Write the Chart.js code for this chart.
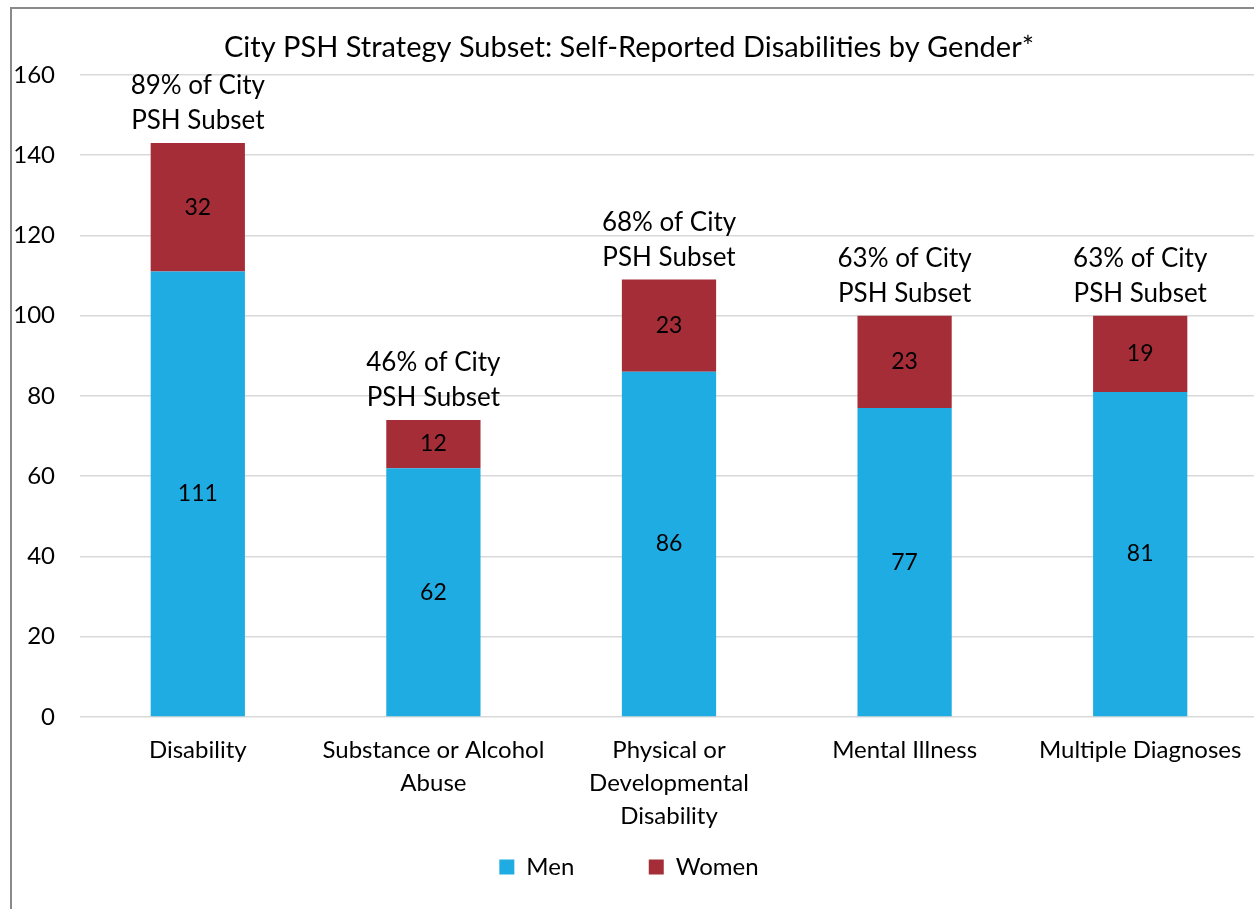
<!DOCTYPE html>
<html lang="en">
<head>
    <meta charset="UTF-8">
    <title>City PSH Strategy Subset</title>
    <style>
        body {
            margin: 0;
            overflow: hidden;
            background: white;
        }
        #wrap {
            position: relative;
            width: 1262px;
            height: 909px;
        }
        #frame {
            position: absolute;
            left: 10px;
            top: 7px;
            width: 1400px;
            height: 1000px;
            border-left: 2px solid #8a8a8a;
            border-top: 2px solid #8a8a8a;
        }
    </style>
</head>
<body>
    <div id="wrap">
        <div id="frame"></div>
        <canvas id="myChart" width="1262" height="909"></canvas>
    </div>

    <script src="https://cdn.jsdelivr.net/npm/chart.js"></script>
    <script>
        // chart data
        const categories = [
            ['Disability'],
            ['Substance or Alcohol', 'Abuse'],
            ['Physical or', 'Developmental', 'Disability'],
            ['Mental Illness'],
            ['Multiple Diagnoses']
        ];
        const men = [111, 62, 86, 77, 81];
        const women = [32, 12, 23, 23, 19];
        const shareOfSubset = ['89%', '46%', '68%', '63%', '63%'];
        const yMax = 160;
        const yStep = 20;

        const fontName = 'Lato, "Open Sans", sans-serif';

        // numbers inside bars + "xx% of City PSH Subset" above each stack
        const barLabels = {
            id: 'barLabels',
            afterDatasetsDraw(chart) {
                let ctx = chart.ctx;
                ctx.save();
                ctx.fillStyle = '#000';
                ctx.textAlign = 'center';
                ctx.textBaseline = 'middle';
                ctx.font = '23px ' + fontName;
                chart.data.datasets.forEach((ds, di) => {
                    let meta = chart.getDatasetMeta(di);
                    meta.data.forEach((bar, i) => {
                        ctx.fillText(ds.data[i], bar.x, (bar.y + bar.base) / 2);
                    });
                });

                ctx.font = '26px ' + fontName;
                let topMeta = chart.getDatasetMeta(chart.data.datasets.length - 1);
                topMeta.data.forEach((bar, i) => {
                    ctx.fillText('PSH Subset', bar.x, bar.y - 22);
                    ctx.fillText(shareOfSubset[i] + ' of City', bar.x, bar.y - 57);
                });
                ctx.restore();
            }
        };

        let ctx = document.getElementById('myChart');
        let myChart = new Chart(ctx, {
            type: 'bar',
            data: {
                labels: categories,
                datasets: [{
                    label: 'Men',
                    data: men,
                    backgroundColor: '#1facE3'
                }, {
                    label: 'Women',
                    data: women,
                    backgroundColor: '#a52d38'
                }]
            },
            options: {
                responsive: false,
                animation: false,
                layout: {
                    padding: { left: 0, right: 4, top: 0, bottom: 20 }
                },
                datasets: {
                    bar: {
                        barPercentage: 0.4,
                        categoryPercentage: 1
                    }
                },
                plugins: {
                    title: {
                        display: true,
                        text: 'City PSH Strategy Subset: Self-Reported Disabilities by Gender*',
                        color: '#000',
                        font: { family: fontName, size: 29, weight: 'normal', lineHeight: 1.2 },
                        padding: { top: 30, bottom: 10 }
                    },
                    legend: {
                        position: 'bottom',
                        labels: {
                            color: '#000',
                            font: { family: fontName, size: 24 },
                            boxWidth: 15,
                            boxHeight: 15,
                            padding: 13,
                            // extra gap between the two legend entries
                            generateLabels(chart) {
                                let items = Chart.defaults.plugins.legend.labels.generateLabels(chart);
                                items.forEach((item, i) => {
                                    if (i < items.length - 1) item.text += ' '.repeat(10);
                                });
                                return items;
                            }
                        }
                    },
                    tooltip: { enabled: false }
                },
                scales: {
                    x: {
                        stacked: true,
                        grid: { display: false, drawTicks: false },
                        border: { display: false },
                        ticks: {
                            color: '#000',
                            font: { family: fontName, size: 24, lineHeight: 1.375 },
                            padding: 17,
                            maxRotation: 0,
                            autoSkip: false
                        },
                        afterFit(scale) {
                            scale.height = 125;
                        }
                    },
                    y: {
                        stacked: true,
                        min: 0,
                        max: yMax,
                        border: { display: false },
                        grid: {
                            color: '#d9d9d9',
                            lineWidth: 1.5,
                            drawTicks: false
                        },
                        ticks: {
                            stepSize: yStep,
                            color: '#000',
                            font: { family: fontName, size: 24 },
                            padding: 25
                        },
                        afterFit(scale) {
                            scale.width = 80;
                        }
                    }
                }
            },
            plugins: [barLabels]
        });
    </script>
</body>
</html>
